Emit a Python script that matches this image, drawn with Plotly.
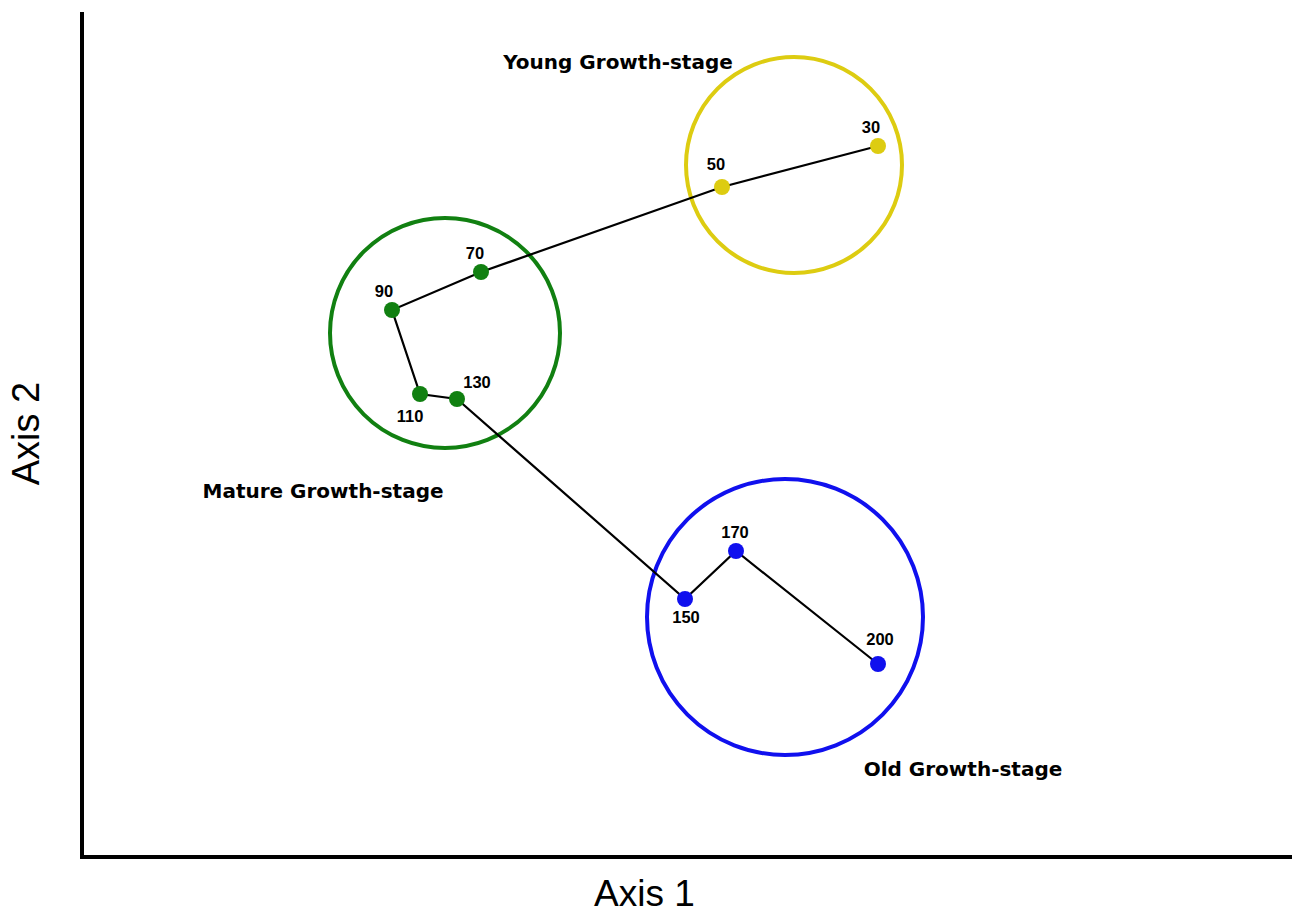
import plotly.graph_objects as go

# Ordination trajectory (stand ages); units are arbitrary (axis 1 / axis 2 scores)
ages = ["30", "50", "70", "90", "110", "130", "150", "170", "200"]
axis1 = [878, 722, 481, 392, 420, 457, 685, 736, 878]
axis2 = [767, 726, 641, 603, 519, 514, 314, 362, 249]
stage_of_point = ["young", "young", "mature", "mature", "mature", "mature", "old", "old", "old"]

# Growth-stage groupings (circle centre and radius)
stages = ["young", "mature", "old"]
stage_names = ["Young Growth-stage", "Mature Growth-stage", "Old Growth-stage"]
stage_cx = [794, 445, 785]
stage_cy = [748, 580, 296]
stage_r = [108, 115, 138]
stage_label_x = [618, 323, 963]
stage_label_y = [849, 420, 142]
stage_colors = {"young": "#DDCC11", "mature": "#118011", "old": "#1010EE"}

# label offsets for each age label (in data units)
label_dx = [-7, -6, -6, -8, -10, 20, 1, -1, 2]
label_dy = [17, 21, 17, 17, -24, 15, -20, 17, 23]

FONT = "Liberation Sans, Arial, sans-serif"

fig = go.Figure()

fig.add_trace(go.Scatter(
    x=axis1, y=axis2, mode="lines",
    line=dict(color="black", width=2.2),
    hoverinfo="skip", showlegend=False,
))

fig.add_trace(go.Scatter(
    x=axis1, y=axis2, mode="markers",
    marker=dict(size=16, color=[stage_colors[s] for s in stage_of_point], line=dict(width=0)),
    showlegend=False,
))

fig.add_trace(go.Scatter(
    x=[a + dx for a, dx in zip(axis1, label_dx)],
    y=[b + dy for b, dy in zip(axis2, label_dy)],
    mode="text", text=ages,
    textfont=dict(family=FONT, size=16.5, color="black", weight="bold"),
    hoverinfo="skip", showlegend=False,
))

for s, cx, cy, r in zip(stages, stage_cx, stage_cy, stage_r):
    fig.add_shape(type="circle", xref="x", yref="y",
                  x0=cx - r, x1=cx + r, y0=cy - r, y1=cy + r,
                  line=dict(color=stage_colors[s], width=4), layer="below")

fig.add_trace(go.Scatter(
    x=stage_label_x, y=stage_label_y, mode="text", text=stage_names,
    textfont=dict(family="DejaVu Sans, sans-serif", size=20, color="black", weight="bold"),
    hoverinfo="skip", showlegend=False,
))

fig.add_annotation(text="Axis 1", xref="x", x=644, yref="paper", y=0,
                   xanchor="center", yanchor="top", yshift=-16, showarrow=False,
                   font=dict(family=FONT, size=37, color="black"))

fig.update_layout(
    width=1292, height=913,
    margin=dict(l=84, r=0, t=12, b=58),
    paper_bgcolor="white", plot_bgcolor="white",
    xaxis=dict(range=[84, 1292], showgrid=False, zeroline=False, showticklabels=False,
               ticks="", showline=True, linecolor="black", linewidth=4),
    yaxis=dict(range=[58, 901], showgrid=False, zeroline=False, showticklabels=False,
               ticks="", showline=True, linecolor="black", linewidth=4,
               title=dict(text="Axis 2", font=dict(family=FONT, size=38, color="black"), standoff=30)),
    hovermode=False,
)

fig.write_html("out.html", config={"displayModeBar": False},
               post_script="document.body.style.margin='0';document.body.style.overflow='hidden';")
